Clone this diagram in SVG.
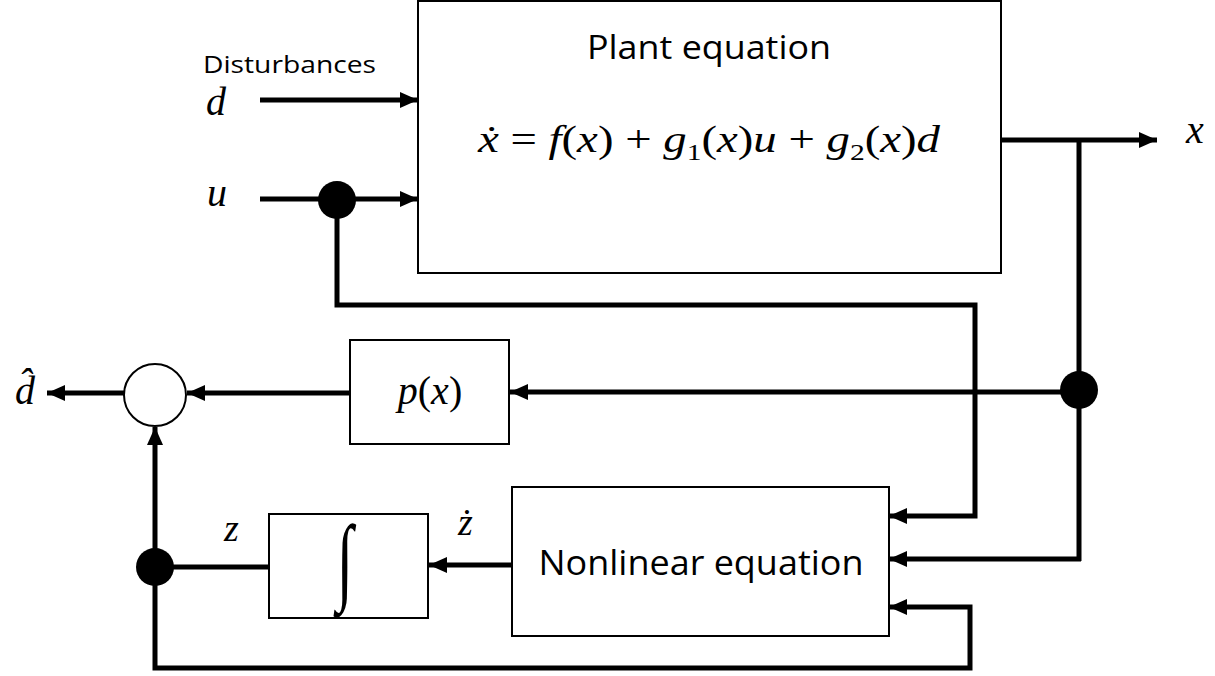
<svg xmlns="http://www.w3.org/2000/svg" width="1215" height="676" viewBox="0 0 1215 676">
<style>
.box{fill:#fff;stroke:#000;stroke-width:2}
.ln{fill:none;stroke:#000;stroke-width:5;stroke-linejoin:miter;stroke-linecap:butt}
.arr{marker-end:url(#ah)}
.dot{fill:#000}
.lbl{font-family:"Open Sans","Liberation Sans",sans-serif;fill:#000}
.math{font-family:"Liberation Serif","DejaVu Serif",serif;font-style:italic;fill:#000}
.mup{font-family:"Liberation Serif","DejaVu Serif",serif;font-style:normal;fill:#000}
</style>
<defs>
<marker id="ah" markerUnits="userSpaceOnUse" markerWidth="18" markerHeight="16" refX="18" refY="8" orient="auto">
<path d="M0,0 L18,8 L0,16 z" fill="#000"/>
</marker>
</defs>
<rect width="1215" height="676" fill="#fff"/>

<g id="connectors">
<line class="ln arr" x1="260" y1="100" x2="418" y2="100"/>
<line class="ln arr" x1="260" y1="199" x2="418" y2="199"/>
<polyline class="ln arr" points="337,199 337,305 975,305 975,516 889,516"/>
<line class="ln arr" x1="1001" y1="140" x2="1157" y2="140"/>
<line class="ln" x1="1079" y1="140" x2="1079" y2="561"/>
<line class="ln arr" x1="1079" y1="392" x2="510" y2="392"/>
<polyline class="ln arr" points="1081,559 889,559"/>
<line class="ln arr" x1="350" y1="393" x2="187" y2="393"/>
<line class="ln arr" x1="124" y1="393" x2="47" y2="393"/>
<line class="ln arr" x1="155" y1="567" x2="155" y2="427"/>
<polyline class="ln arr" points="155,567 155,668 970,668 970,607 889,607"/>
<line class="ln" x1="155" y1="567" x2="269" y2="567"/>
<line class="ln arr" x1="512" y1="565" x2="429" y2="565"/>
</g>

<g id="junction-u"><circle class="dot" cx="337" cy="200" r="19"/></g>
<g id="junction-x"><circle class="dot" cx="1079" cy="390" r="19"/></g>
<g id="junction-z"><circle class="dot" cx="155" cy="567" r="19"/></g>

<g id="plant">
<rect class="box" x="418" y="1" width="583" height="272"/>
<text class="lbl" x="709" y="59" font-size="32" text-anchor="middle" textLength="244" lengthAdjust="spacingAndGlyphs">Plant equation</text>
<text class="math" x="478" y="152" font-size="38" textLength="462" lengthAdjust="spacingAndGlyphs">ẋ <tspan class="mup">=</tspan> f<tspan class="mup">(</tspan>x<tspan class="mup">) + </tspan>g<tspan class="mup" font-size="24" dy="8">1</tspan><tspan class="mup" dy="-8">(</tspan>x<tspan class="mup">)</tspan>u<tspan class="mup"> + </tspan>g<tspan class="mup" font-size="24" dy="8">2</tspan><tspan class="mup" dy="-8">(</tspan>x<tspan class="mup">)</tspan>d</text>
</g>

<g id="px">
<rect class="box" x="350" y="340" width="159" height="104"/>
<text class="math" x="430" y="404" font-size="40" text-anchor="middle">p<tspan class="mup">(</tspan>x<tspan class="mup">)</tspan></text>
</g>

<g id="sum">
<circle cx="155" cy="395" r="31" fill="#fff" stroke="#000" stroke-width="2"/>
</g>

<g id="integrator">
<rect class="box" x="269" y="514" width="159" height="104"/>
<text class="mup" x="345" y="592" font-size="60" text-anchor="middle" transform="translate(0,-355) scale(1,1.6)" style="font-family:'Liberation Serif',serif;font-style:italic">∫</text>
</g>

<g id="nonlinear">
<rect class="box" x="512" y="487" width="377" height="149"/>
<text class="lbl" x="701" y="575" font-size="35" text-anchor="middle" textLength="325" lengthAdjust="spacingAndGlyphs">Nonlinear equation</text>
</g>

<g id="labels">
<text class="lbl" x="203" y="73" font-size="24" textLength="173" lengthAdjust="spacingAndGlyphs">Disturbances</text>
<text class="math" x="206" y="115" font-size="40">d</text>
<text class="math" x="207" y="206" font-size="40">u</text>
<text class="math" x="1186" y="143" font-size="40">x</text>
<text class="math" x="15" y="404" font-size="40">d̂</text>
<text class="math" x="224" y="541" font-size="38">z</text>
<text class="math" x="458" y="535" font-size="38">ż</text>
</g>
</svg>
